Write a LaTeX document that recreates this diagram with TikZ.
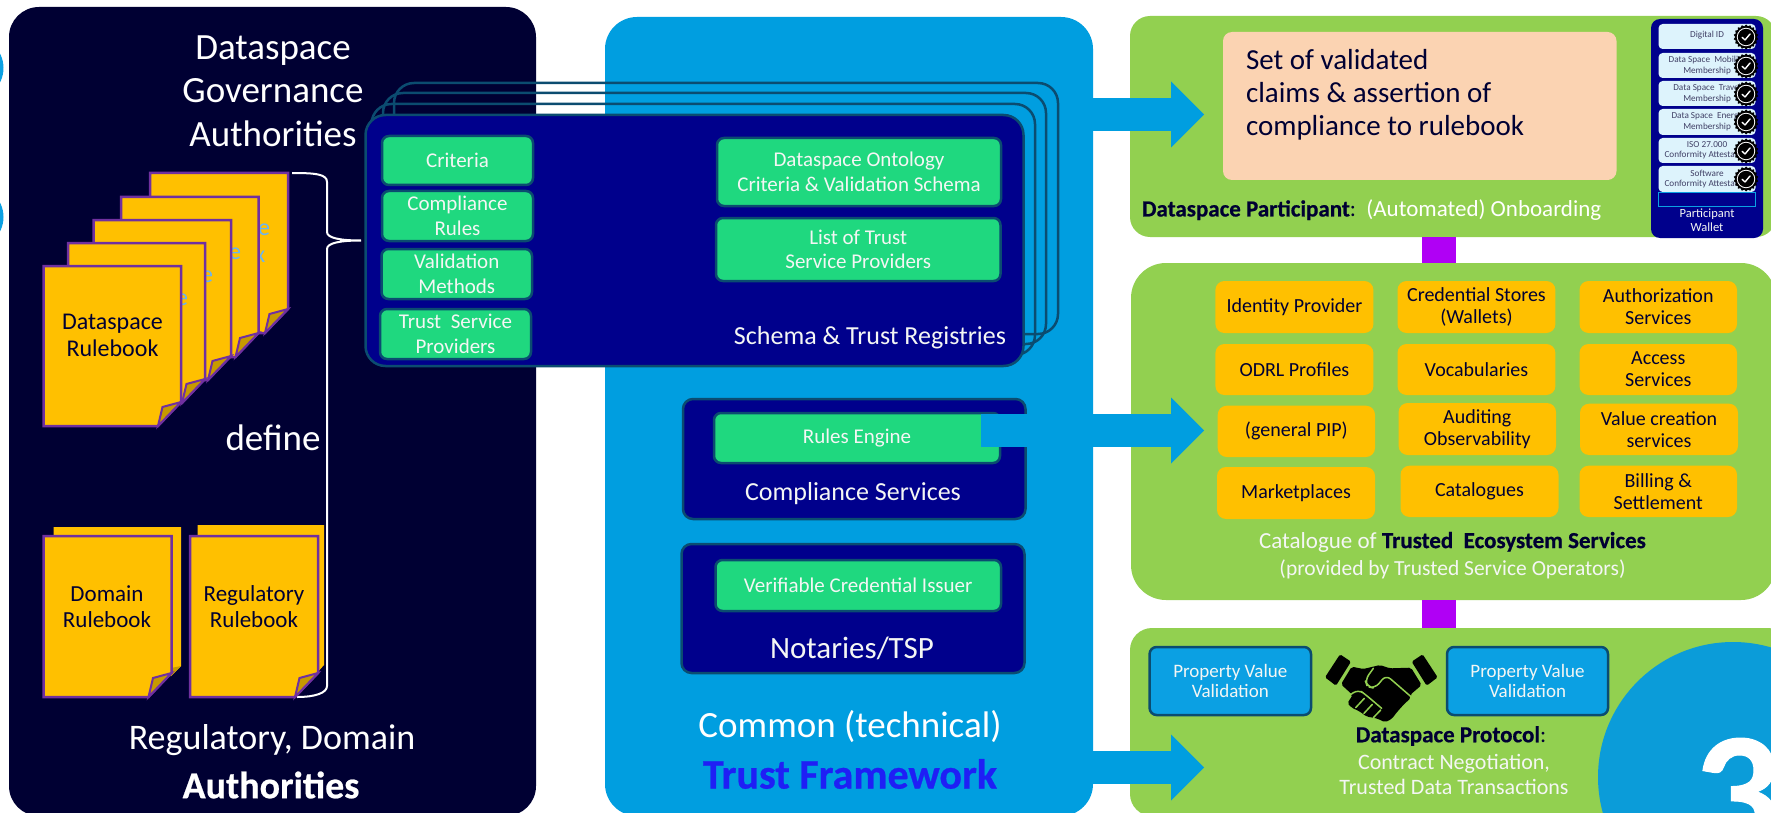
\documentclass[tikz,border=0pt]{standalone}
\usepackage{fontspec}
\usetikzlibrary{arrows.meta,shapes.geometric,calc}
\setmainfont{Carlito}
\newfontfamily\hvy[FakeBold=0.6]{Carlito Bold}
\definecolor{navy}{HTML}{000033}
\definecolor{panelblue}{HTML}{009EE0}
\definecolor{circleblue}{HTML}{0B9CD9}
\definecolor{leaf}{HTML}{92D050}
\definecolor{deepblue}{HTML}{00008C}
\definecolor{edge}{HTML}{0B4C70}
\definecolor{mint}{HTML}{1FD87F}
\definecolor{gold}{HTML}{FFC000}
\definecolor{golddark}{HTML}{C79A00}
\definecolor{plum}{HTML}{7030A0}
\definecolor{violet}{HTML}{B000F5}
\definecolor{peach}{HTML}{FBD3B2}
\definecolor{skycard}{HTML}{DDF3FC}
\definecolor{tfblue}{HTML}{1F1FF5}
\definecolor{propblue}{HTML}{0BA0E3}
\definecolor{peek}{HTML}{6CB4EE}
\definecolor{softwhite}{HTML}{F4F6F4}
\newcommand{\fs}[2]{\fontsize{#1}{#2}\selectfont}
\tikzset{
  x=1pt,y=-1pt,
  bx/.style={rectangle,inner sep=0pt,outer sep=0pt,align=center},
  panel/.style={bx,fill=#1},
  darkbox/.style={bx,fill=deepblue,draw=edge,line width=2.5pt,rounded corners=10pt},
  ghost/.style={rounded corners=20pt,draw=edge,line width=2.5pt},
  minty/.style={bx,fill=mint,draw=edge,line width=2.5pt,rounded corners=7pt,text=softwhite,font=\fs{21}{24.5}},
  orange/.style={bx,fill=gold,rounded corners=9pt,text=navy,font=\fs{20}{21.8}},
  prop/.style={bx,fill=propblue,draw=edge,line width=2.5pt,rounded corners=7pt,text=softwhite,font=\fs{19}{20.5}},
  card/.style={bx,fill=skycard,rounded corners=4pt,text=navy!75,font=\fs{9.2}{10.5}},
  lab/.style={inner sep=0pt,outer sep=0pt,align=center},
  fatarrow/.style={panelblue,line width=33pt,-{Triangle[length=33pt,width=66pt,line width=0pt]}},
  link/.style={violet,line width=34pt},
  pageoutline/.style={fill=gold,draw=plum,line width=2.5pt,line join=miter},
  flap/.style={fill=golddark,draw=plum,line width=2pt,line join=miter},
  hand/.style={fill=black,draw=none},
  handgap/.style={draw=leaf,line width=1.5pt,line cap=round,line join=round},
}
% name, style, x1,y1,x2,y2, text
\newcommand{\bx}[7]{\node[#2,minimum width={(#5-#3)*1pt},minimum height={(#6-#4)*1pt}] (#1) at ({(#3+#5)/2},{(#4+#6)/2}) {#7};}
% stacked page: x, y, w, h, fold x, fold y
\newcommand{\docpage}[4]{%
  \draw[pageoutline] (#1,#2) -- ({#1+#3},#2) -- ({#1+#3},{#2+#4-24}) -- ({#1+#3-23},{#2+#4}) -- (#1,{#2+#4}) -- cycle;
  \draw[flap] ({#1+#3-23},{#2+#4}) -- ({#1+#3-18.5},{#2+#4-19}) -- ({#1+#3},{#2+#4-24}) -- cycle;}
% seal at x,y
\newcommand{\seal}[3]{%
  \node[star,star points=18,star point ratio=1.16,fill=black,inner sep=0pt,minimum size=25pt] (#1) at (#2,#3) {};
  \fill[white] (#2,#3) circle (9.2pt);
  \fill[black] (#2,#3) circle (8.2pt);
  \draw[white,line width=1.4pt,line cap=round,line join=round] ({#2-3.8},{#3+0.3}) -- ({#2-1},{#3+3}) -- ({#2+4},{#3-3});}
\begin{document}
\begin{tikzpicture}
\useasboundingbox (0,0) rectangle (1771,813);
\clip (0,0) rectangle (1771,813);
\fill[white] (0,0) rectangle (1771,813);
% crescents left
\fill[propblue] (-28,68) circle (31.5pt);
\fill[propblue] (-28,217) circle (31.5pt);
% panels
\bx{gov}{panel=navy,rounded corners=30pt}{9}{7}{536}{816}{}
\bx{trust}{panel=panelblue,rounded corners=32pt}{605}{17}{1093}{816}{}
\bx{part}{panel=leaf,rounded corners=20pt}{1130}{16}{1776}{237}{}
\bx{eco}{panel=leaf,rounded corners=35pt}{1131}{263}{1776}{600}{}
\bx{proto}{panel=leaf,rounded corners=22pt}{1130}{628}{1790}{816}{}
% purple links
\coordinate (l1a) at (1439,237); \coordinate (l1b) at (1439,263);
\coordinate (l2a) at (1439,600); \coordinate (l2b) at (1439,628);
\draw[link] (l1a) -- (l1b);
\draw[link] (l2a) -- (l2b);
% Big number
\fill[circleblue] (1733,777) circle (135pt);
\node[lab,text=white,font={\hvy\fs{172}{172}}] (three) at (1737,795) {3};
% Left titles
\node[lab,text=white,font=\fs{37}{43.5}] (govt) at (273,91) {Dataspace\\Governance\\Authorities};
\node[lab,text=white,font=\fs{37}{40}] (def) at (273,438) {define};
\node[lab,text=white,font=\fs{36}{40}] (reg) at (272,740) {Regulatory, Domain};
\node[lab,text=white,font={\hvy\fs{38}{40}}] (auth) at (271,785) {Authorities};
% Rulebook stack
\docpage{150}{173}{138}{160}
\node[lab,text=peek,font=\fs{24}{24}] (pk1) at (264,230) {e};
\node[lab,text=peek,font=\fs{24}{24}] (pk1b) at (260,257) {x};
\docpage{121}{197}{137.5}{160}
\node[lab,text=peek,font=\fs{24}{24}] (pk2) at (235,254) {e};
\docpage{93.5}{220}{137.5}{160}
\node[lab,text=peek,font=\fs{24}{24}] (pk3) at (207,277) {e};
\docpage{68}{243}{137}{160}
\node[lab,text=peek,font=\fs{24}{24}] (pk4) at (182,300) {e};
\docpage{43.5}{266}{137.5}{160}
\node[lab,text=navy,font=\fs{24}{27}] (drb) at (112.5,335) {Dataspace\\Rulebook};
% Domain and regulatory pages
\fill[gold] (53.5,527) -- (181,527) -- (181,666) -- (171,676) -- (53.5,676) -- cycle;
\fill[golddark] (171,668) -- (181,666) -- (171,676) -- cycle;
\fill[gold] (197.5,525) -- (324,525) -- (324,665) -- (316,674) -- (197.5,674) -- cycle;
% brace
\draw[white,line width=2pt] (292,173) .. controls (315,173) and (327,174) .. (327,182) -- (327,232) .. controls (327,238) and (340,240.5) .. (361,240.5) .. controls (340,240.5) and (327,243) .. (327,249) -- (327,686) .. controls (327,693) and (315,697) .. (297,697);
\docpage{43.5}{536}{128}{161}
\node[lab,text=navy,font=\fs{23}{26}] (dom) at (107,607) {Domain\\Rulebook};
\docpage{190}{536}{128}{161}
\node[lab,text=navy,font=\fs{23}{26}] (regb) at (254,607) {Regulatory\\Rulebook};
% Registry stack outlines
\draw[ghost] (394,334) rectangle (1058,83);
\draw[ghost] (383,344) rectangle (1046,93);
\draw[ghost] (371.5,355) rectangle (1035,104);
\bx{reg0}{darkbox,rounded corners=20pt}{365.5}{115}{1023.5}{366}{}
\bx{g1}{minty}{382}{136}{533}{185}{Criteria}
\bx{g2}{minty}{382}{191}{533}{241}{Compliance\\Rules}
\bx{g3}{minty}{381.5}{249}{532}{299}{Validation\\Methods}
\bx{g4}{minty}{380}{309}{531}{359}{Trust~~Service\\Providers}
\bx{g5}{minty}{717}{138}{1001}{206}{Dataspace Ontology\\Criteria \& Validation Schema}
\bx{g6}{minty}{716}{218}{1000.5}{281}{List of Trust\\Service Providers}
\node[lab,text=softwhite,font=\fs{26}{28}] (regt) at (870,338) {Schema \& Trust Registries};
% Compliance
\bx{comp}{darkbox}{683}{399}{1025.5}{519}{}
\bx{rules}{minty}{714}{413}{1000}{463}{Rules Engine}
\node[lab,text=softwhite,font=\fs{26}{28}] (compt) at (853,494) {Compliance Services};
\bx{nota}{darkbox}{681.5}{544}{1024.5}{673}{}
\bx{vci}{minty}{715.5}{560}{1001}{611}{Verifiable Credential Issuer}
\node[lab,text=softwhite,font=\fs{31}{33}] (notat) at (852,648) {Notaries/TSP};
% Trust framework title
\node[lab,text=white,font=\fs{37}{40}] (tf1) at (850,727) {Common (technical)};
\node[lab,text=tfblue,font={\hvy\fs{42}{44}}] (tf2) at (850,774) {Trust Framework};
% Big arrows
\coordinate (a1s) at (1090,114.5); \coordinate (a1e) at (1204,114.5);
\coordinate (a2s) at (981,430.5); \coordinate (a2e) at (1204,430.5);
\coordinate (a3s) at (1090,767.5); \coordinate (a3e) at (1204,767.5);
\draw[fatarrow] (a1s) -- (a1e);
\draw[fatarrow] (a2s) -- (a2e);
\draw[fatarrow] (a3s) -- (a3e);
% Participant
\bx{claims}{panel=peach,rounded corners=9pt}{1223}{32}{1616.5}{180}{}
\node[lab,anchor=west,text=navy,font=\fs{29}{33},align=left] (claimst) at (1246,95) {Set of validated\\claims \& assertion of\\compliance to rulebook};
\node[lab,anchor=west,text=white,font=\fs{23}{25}] (partt) at (1142,210) {{\hvy\color{navy}Dataspace Participant}{\color{navy}:}~~(Automated) Onboarding};
% Wallet
\bx{wal}{panel=deepblue,rounded corners=9pt}{1651}{19}{1763}{238}{}
\draw[propblue,line width=.6pt] (1658.6,192) rectangle (1755.5,206);
\bx{c1}{card}{1658.6}{24}{1755.5}{49}{\raisebox{4pt}{Digital ID}}
\bx{c2}{card}{1658.6}{53}{1755.5}{78}{Data Space~~Mobility\\Membership}
\bx{c3}{card}{1658.6}{81}{1755.5}{106}{Data Space~~Travel\\Membership}
\bx{c4}{card}{1658.6}{109}{1755.5}{135}{Data Space~~Energy\\Membership}
\bx{c5}{card}{1658.6}{138}{1755.5}{163}{ISO 27.000\\Conformity Attestation}
\bx{c6}{card}{1658.6}{166}{1755.5}{192}{Software\\Conformity Attestation}
\seal{s1}{1746}{37}
\seal{s2}{1746}{66}
\seal{s3}{1746}{94}
\seal{s4}{1746}{122}
\seal{s5}{1746}{151}
\seal{s6}{1746}{179}
\node[lab,text=softwhite,font=\fs{12.5}{13.5}] (walt) at (1707,220) {Participant\\Wallet};
% Services
\bx{o1}{orange}{1215.4}{281}{1373.4}{333}{Identity Provider}
\bx{o2}{orange}{1397.5}{281}{1555.4}{333}{Credential Stores\\(Wallets)}
\bx{o3}{orange}{1579.5}{281}{1737}{333}{Authorization\\Services}
\bx{o4}{orange}{1215.4}{344}{1373.4}{395}{ODRL Profiles}
\bx{o5}{orange}{1397.5}{344}{1555.4}{395}{Vocabularies}
\bx{o6}{orange}{1579.5}{344}{1737}{395}{Access\\Services}
\bx{o7}{orange}{1217.7}{405.7}{1375}{457}{(general PIP)}
\bx{o8}{orange}{1398.6}{403}{1556}{455}{Auditing\\Observability}
\bx{o9}{orange}{1580}{403.7}{1738}{455}{Value creation\\services}
\bx{o10}{orange}{1217}{467}{1375}{519}{Marketplaces}
\bx{o11}{orange}{1400.5}{465.7}{1558.5}{517}{Catalogues}
\bx{o12}{orange}{1579.5}{465.7}{1737}{517}{Billing \&\\Settlement}
\node[lab,text=softwhite,font=\fs{23}{25}] (ecot) at (1452.5,542) {Catalogue of {\hvy\color{navy}Trusted~~Ecosystem Services}};
\node[lab,text=softwhite,font=\fs{21.5}{24}] (ecot2) at (1452.5,569) {(provided by Trusted Service Operators)};
% Protocol
\bx{pv1}{prop}{1149.6}{647}{1311}{715}{Property Value\\Validation}
\bx{pv2}{prop}{1447}{647}{1608}{715}{Property Value\\Validation}
\begin{scope}[shift={(1310,645)},x=0.3333pt,y=-0.3333pt]
  \fill[hand,rounded corners=1.5pt] (90,28) -- (123,50) -- (78,122) -- (45,97) -- cycle;
  \fill[hand,rounded corners=1.5pt] (338,28) -- (305,50) -- (350,122) -- (383,97) -- cycle;
  \fill[hand,rounded corners=2pt] (93,118) -- (125,65) -- (160,72) -- (210,60) -- (240,70) -- (303,68) -- (335,120) -- (300,150) -- (303,158) -- (280,180) -- (262,200) -- (245,222) -- (225,232) -- (205,222) -- (190,218) -- (170,215) -- (150,200) -- (125,188) -- (112,175) -- (128,150) -- cycle;
  \draw[handgap,rounded corners=6pt] (190,70) -- (165,105) -- (172,125) -- (195,130) -- (228,90) -- (303,155);
  \draw[handgap,rounded corners=6pt] (120,150) -- (145,133) -- (168,150) -- (215,190);
  \draw[handgap] (137,188) -- (163,160);
  \draw[handgap] (162,205) -- (187,178);
  \draw[handgap] (190,218) -- (212,195);
\end{scope}
\node[lab,text=navy,font=\fs{23}{25}] (dpt) at (1451,736) {{\hvy Dataspace Protocol}:};
\node[lab,text=softwhite,font=\fs{22}{25.5}] (dpt2) at (1454,774.5) {Contract Negotiation,\\Trusted Data Transactions};
\end{tikzpicture}
\end{document}
